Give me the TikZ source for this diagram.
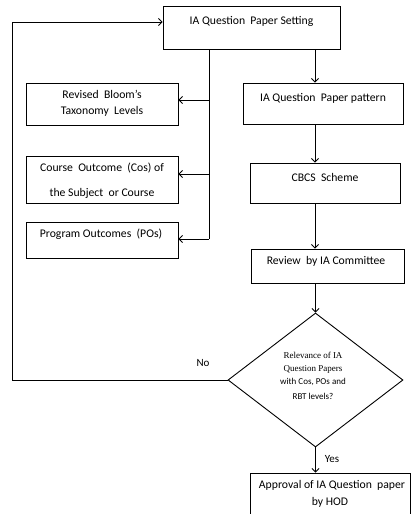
\documentclass[tikz,border=0pt]{standalone}
\usepackage{fontspec}
\setmainfont{Carlito}
\newfontfamily\serifsmall{Liberation Serif}
\usetikzlibrary{arrows.meta,shapes.geometric}
\tikzset{
  box/.style={draw, line width=0.9pt, rectangle, inner sep=0pt},
  txt/.style={font=\fontsize{11.7}{13}\selectfont, inner sep=0pt, align=center},
  lbl/.style={font=\fontsize{11}{13}\selectfont, inner sep=0pt},
  dtxt/.style={font=\fontsize{9}{10}\selectfont, inner sep=0pt, align=center},
  dser/.style={font=\serifsmall\fontsize{9}{10}\selectfont, inner sep=0pt, align=center},
  flow/.style={line width=0.9pt, -{Straight Barb[length=3.5pt,width=7pt]}},
  plain/.style={line width=0.9pt},
}
\begin{document}
\begin{tikzpicture}[x=1pt,y=-1pt]
\useasboundingbox (0,0) rectangle (411,514);
\clip (0,0) rectangle (411,514);

% boxes
\node[box, minimum width=177pt, minimum height=43pt] (setting) at (251.5,27.5) {};
\node[box, minimum width=152pt, minimum height=42pt] (bloom) at (102,104) {};
\node[box, minimum width=152pt, minimum height=47pt] (course) at (102,179.5) {};
\node[box, minimum width=152pt, minimum height=36pt] (pos) at (102,240) {};
\node[box, minimum width=160pt, minimum height=41pt] (pattern) at (323,103.5) {};
\node[box, minimum width=150pt, minimum height=40pt] (cbcs) at (325,183) {};
\node[box, minimum width=153pt, minimum height=34pt] (review) at (327.5,266) {};
\node[draw, line width=0.9pt, diamond, aspect=1.306, inner sep=0pt,
      minimum width=175pt, minimum height=134pt] (relevance) at (315.5,380) {};
\node[box, minimum width=160pt, minimum height=50pt] (approval) at (330,498) {};

% box texts
\node[txt] at (251.5,21) {IA Question\ \ Paper Setting};
\node[txt] at (102,94) {Revised\ \ Bloom’s};
\node[txt] at (102,111) {Taxonomy\ \ Levels};
\node[txt] at (102,168) {Course\ \ Outcome\ \ (Cos) of};
\node[txt] at (102,193) {the Subject\ \ or Course};
\node[txt] at (101,234) {Program Outcomes\ \ (POs)};
\node[txt] at (323,98) {IA Question\ \ Paper pattern};
\node[txt] at (325,177) {CBCS\ \ Scheme};
\node[txt] at (326,261) {Review\ \ by IA Committee};
\node[txt] at (332,485) {Approval of IA Question\ \ paper};
\node[txt] at (330,502) {by HOD};

% decision text
\node[dser] at (313,355) {Relevance of IA};
\node[dser] at (313,369) {Question Papers};
\node[dtxt] at (313,382) {with Cos, POs and};
\node[dtxt] at (313,396) {RBT levels?};

% main chain
\draw[flow] (setting.south -| pattern.north) ++(-8,0) coordinate (s1) -- (s1 |- pattern.north);
\draw[flow] (pattern.south -| s1) -- (s1 |- cbcs.north);
\draw[flow] (cbcs.south -| s1) -- (s1 |- review.north);
\draw[flow] (review.south -| relevance.north) -- (relevance.north);
\draw[flow] (relevance.south) -- (relevance.south |- approval.north);
\node[lbl] at (332,459) {Yes};

% inputs branching off the setting box
\coordinate (spine) at (209,0);
\draw[plain] (spine |- setting.south) -- (spine |- 0,239);
\draw[flow] (spine |- 0,239) -- (pos.east |- 0,239);
\draw[flow] (spine |- 0,100) -- (bloom.east |- 0,100);
\draw[flow] (spine |- 0,174) -- (course.east |- 0,174);

% rejection loop
\coordinate (loop) at (12,0);
\draw[flow] (relevance.west) -- (loop |- relevance.west) -- (loop |- 0,22) -- (setting.west |- 0,22);
\node[lbl] at (203,363) {No};
\end{tikzpicture}
\end{document}
